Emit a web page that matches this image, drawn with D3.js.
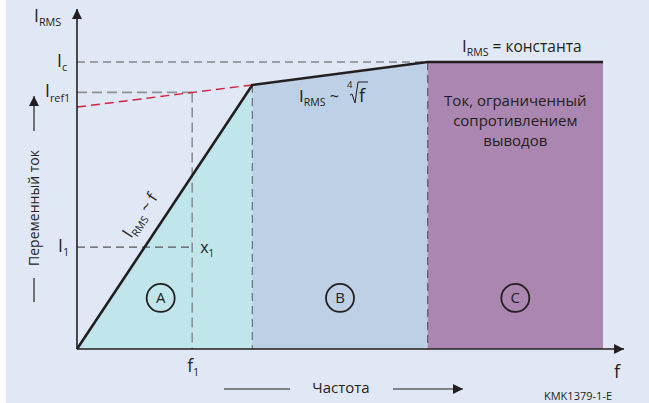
<!DOCTYPE html>
<html>
<head>
<meta charset="utf-8">
<script src="https://cdn.jsdelivr.net/npm/d3@7"></script>
<style>
  body { margin: 0; background: #ffffff; }
  svg { display: block; font-family: "Open Sans", "Noto Sans", sans-serif; }
</style>
</head>
<body>
<div id="chart"></div>
<script>
// Curve of RMS current vs frequency (abstract units)
const curveF = [0, 1, 2, 3];
const curveI = [0, 92, 100, 100];
// extrapolated red dashed line
const refF = [0, 1];
const refI = [84.3, 92];
// level marks on the current axis
const levelNames = ["c", "ref1", "1"];
const levelValues = [100, 89.4, 35.5];
const f1Value = 0.657;
// regions
const regionNames = ["A", "B", "C"];
const regionStart = [0, 1, 2];
const regionEnd = [1, 2, 3];
const regionColors = ["#c0e6ec", "#bdd0e5", "#ab86b0"];
const limitText = ["Ток, ограниченный", "сопротивлением", "выводов"];

const width = 649, height = 403;
const ink = "#231f20";

const svg = d3.select("#chart").append("svg")
  .attr("width", width)
  .attr("height", height);

svg.append("rect").attr("width", width).attr("height", height).attr("fill", "#ffffff");
svg.append("rect").attr("x", 6).attr("width", width - 6).attr("height", height).attr("fill", "#e1e8f5");

const x = d3.scaleLinear().domain([0, 3]).range([77, 603]);
const y = d3.scaleLinear().domain([0, 100]).range([349, 62]);

const curve = curveF.map((f, i) => [f, curveI[i]]);
const curveAt = f => {
  for (let i = 0; i < curveF.length - 1; i++) {
    if (f <= curveF[i + 1]) {
      const t = (f - curveF[i]) / (curveF[i + 1] - curveF[i]);
      return curveI[i] + t * (curveI[i + 1] - curveI[i]);
    }
  }
  return curveI[curveI.length - 1];
};

// region fills (under the curve)
const area = d3.area().x(d => x(d[0])).y0(y(0)).y1(d => y(d[1]));
regionNames.forEach((name, i) => {
  const pts = curve.filter(d => d[0] >= regionStart[i] && d[0] <= regionEnd[i]);
  svg.append("path")
    .attr("d", area(pts))
    .attr("fill", regionColors[i]);
});

// dashed guide lines
function dash(x1, y1, x2, y2, color, w, pattern) {
  svg.append("line")
    .attr("x1", x1).attr("y1", y1).attr("x2", x2).attr("y2", y2)
    .attr("stroke", color).attr("stroke-width", w)
    .attr("stroke-dasharray", pattern);
}
dash(x(0), y(levelValues[0]), x(2), y(levelValues[0]), "#55575b", 1.2, "8,5");
dash(x(0), y(levelValues[1]), x(f1Value), y(levelValues[1]), "#8d9196", 1.6, "10,5");
dash(x(f1Value), y(levelValues[1]), x(f1Value), y(0), "#8d9196", 1.6, "10,5");
dash(x(0), y(levelValues[2]), x(f1Value), y(levelValues[2]), "#55575b", 1.2, "8,5");
dash(x(1), y(curveAt(1)), x(1), y(0), "#6b6f75", 1.2, "8,5");
dash(x(2), y(curveAt(2)), x(2), y(0), "#6a5070", 1.2, "8,5");
dash(x(refF[0]), y(refI[0]), x(refF[1]), y(refI[1]), "#d0233f", 1.4, "9,5");

// main curve
svg.append("path")
  .attr("d", d3.line().x(d => x(d[0])).y(d => y(d[1]))(curve))
  .attr("fill", "none")
  .attr("stroke", ink)
  .attr("stroke-width", 2.6)
  .attr("stroke-linejoin", "miter");

// axes with arrows
svg.append("defs").append("marker")
  .attr("id", "arrow")
  .attr("viewBox", "0 0 10 10")
  .attr("refX", 10).attr("refY", 5)
  .attr("markerWidth", 10).attr("markerHeight", 10)
  .attr("markerUnits", "userSpaceOnUse")
  .attr("orient", "auto")
  .append("path").attr("d", "M0,0L10,5L0,10Z").attr("fill", ink);

svg.append("line")
  .attr("x1", x(0)).attr("y1", y(0)).attr("x2", x(3.12)).attr("y2", y(0))
  .attr("stroke", ink).attr("stroke-width", 1.6).attr("marker-end", "url(#arrow)");
svg.append("line")
  .attr("x1", x(0)).attr("y1", y(0)).attr("x2", x(0)).attr("y2", y(118.5))
  .attr("stroke", ink).attr("stroke-width", 1.6).attr("marker-end", "url(#arrow)");

// text with subscript helper
function label(px, py, main, sub, size, anchor, after, afterSize) {
  const t = svg.append("text")
    .attr("x", px).attr("y", py)
    .attr("fill", ink)
    .attr("font-size", size)
    .attr("text-anchor", anchor || "start");
  t.append("tspan").text(main);
  if (sub) {
    t.append("tspan").attr("font-size", size * 0.62).attr("dy", size * 0.25).text(sub);
  }
  if (after) {
    t.append("tspan").attr("dy", sub ? -size * 0.25 : 0)
      .attr("font-size", afterSize || size).text(after);
  }
  return t;
}

label(34, 22, "I", "RMS", 17.5);
label(57, y(levelValues[0]) + 5, "I", "c", 17.5);
label(45, y(levelValues[1]) + 5, "I", "ref1", 17.5);
label(58, y(levelValues[2]) + 5, "I", "1", 17.5);
label(x(f1Value) + 8, y(levelValues[2]) + 6, "x", "1", 16);
label(x(f1Value) - 5, 372, "f", "1", 17.5);
label(614, 378, "f", null, 18);

// slope labels
label(0, 0, "I", "RMS", 17, "start", " ~ f", 16)
  .attr("transform", "translate(131,239) rotate(-56.5)");

label(299, 102, "I", "RMS", 17, "start", " ~", 16);
svg.append("text").attr("x", 347).attr("y", 88).attr("font-size", 9.5).attr("fill", ink).text("4");
svg.append("path")
  .attr("d", "M350,95 L352,94 L355,103 L358,82 L368,82")
  .attr("fill", "none").attr("stroke", ink).attr("stroke-width", 1);
svg.append("text").attr("x", 359).attr("y", 102).attr("font-size", 18).attr("fill", ink).text("f");

label(462, 52, "I", "RMS", 17, "start", " = константа", 15.5);

// text in region C
limitText.forEach((line, i) => {
  svg.append("text")
    .attr("x", (x(2) + x(3)) / 2)
    .attr("y", 106 + i * 20)
    .attr("text-anchor", "middle")
    .attr("font-size", 15)
    .attr("fill", ink)
    .text(line);
});

// region circles
regionNames.forEach((name, i) => {
  const cx = i === 0 ? x(0.5) - 4 : (x(regionStart[i]) + x(regionEnd[i])) / 2;
  const cy = y(17.8);
  svg.append("circle")
    .attr("cx", cx).attr("cy", cy).attr("r", 14)
    .attr("fill", "none").attr("stroke", ink).attr("stroke-width", 1.8);
  svg.append("text")
    .attr("x", cx).attr("y", cy + 5.5)
    .attr("text-anchor", "middle")
    .attr("font-size", 15).attr("fill", ink)
    .text(name);
});

// axis titles
svg.append("text")
  .attr("x", 341).attr("y", 393)
  .attr("text-anchor", "middle")
  .attr("font-size", 15).attr("fill", ink)
  .text("Частота");
svg.append("line").attr("x1", 224).attr("y1", 389).attr("x2", 290).attr("y2", 389)
  .attr("stroke", ink).attr("stroke-width", 1.2);
svg.append("line").attr("x1", 393).attr("y1", 389).attr("x2", 463).attr("y2", 389)
  .attr("stroke", ink).attr("stroke-width", 1.2).attr("marker-end", "url(#arrow)");

svg.append("text")
  .attr("transform", "translate(39,208) rotate(-90)")
  .attr("text-anchor", "middle")
  .attr("font-size", 14).attr("fill", ink)
  .text("Переменный ток");
svg.append("line").attr("x1", 34).attr("y1", 131).attr("x2", 34).attr("y2", 96)
  .attr("stroke", ink).attr("stroke-width", 1.2).attr("marker-end", "url(#arrow)");
svg.append("line").attr("x1", 34).attr("y1", 278).attr("x2", 34).attr("y2", 302)
  .attr("stroke", ink).attr("stroke-width", 1.2);

svg.append("text")
  .attr("x", 578).attr("y", 400)
  .attr("text-anchor", "middle")
  .attr("font-size", 11).attr("fill", ink)
  .text("KMK1379-1-E");
</script>
</body>
</html>
